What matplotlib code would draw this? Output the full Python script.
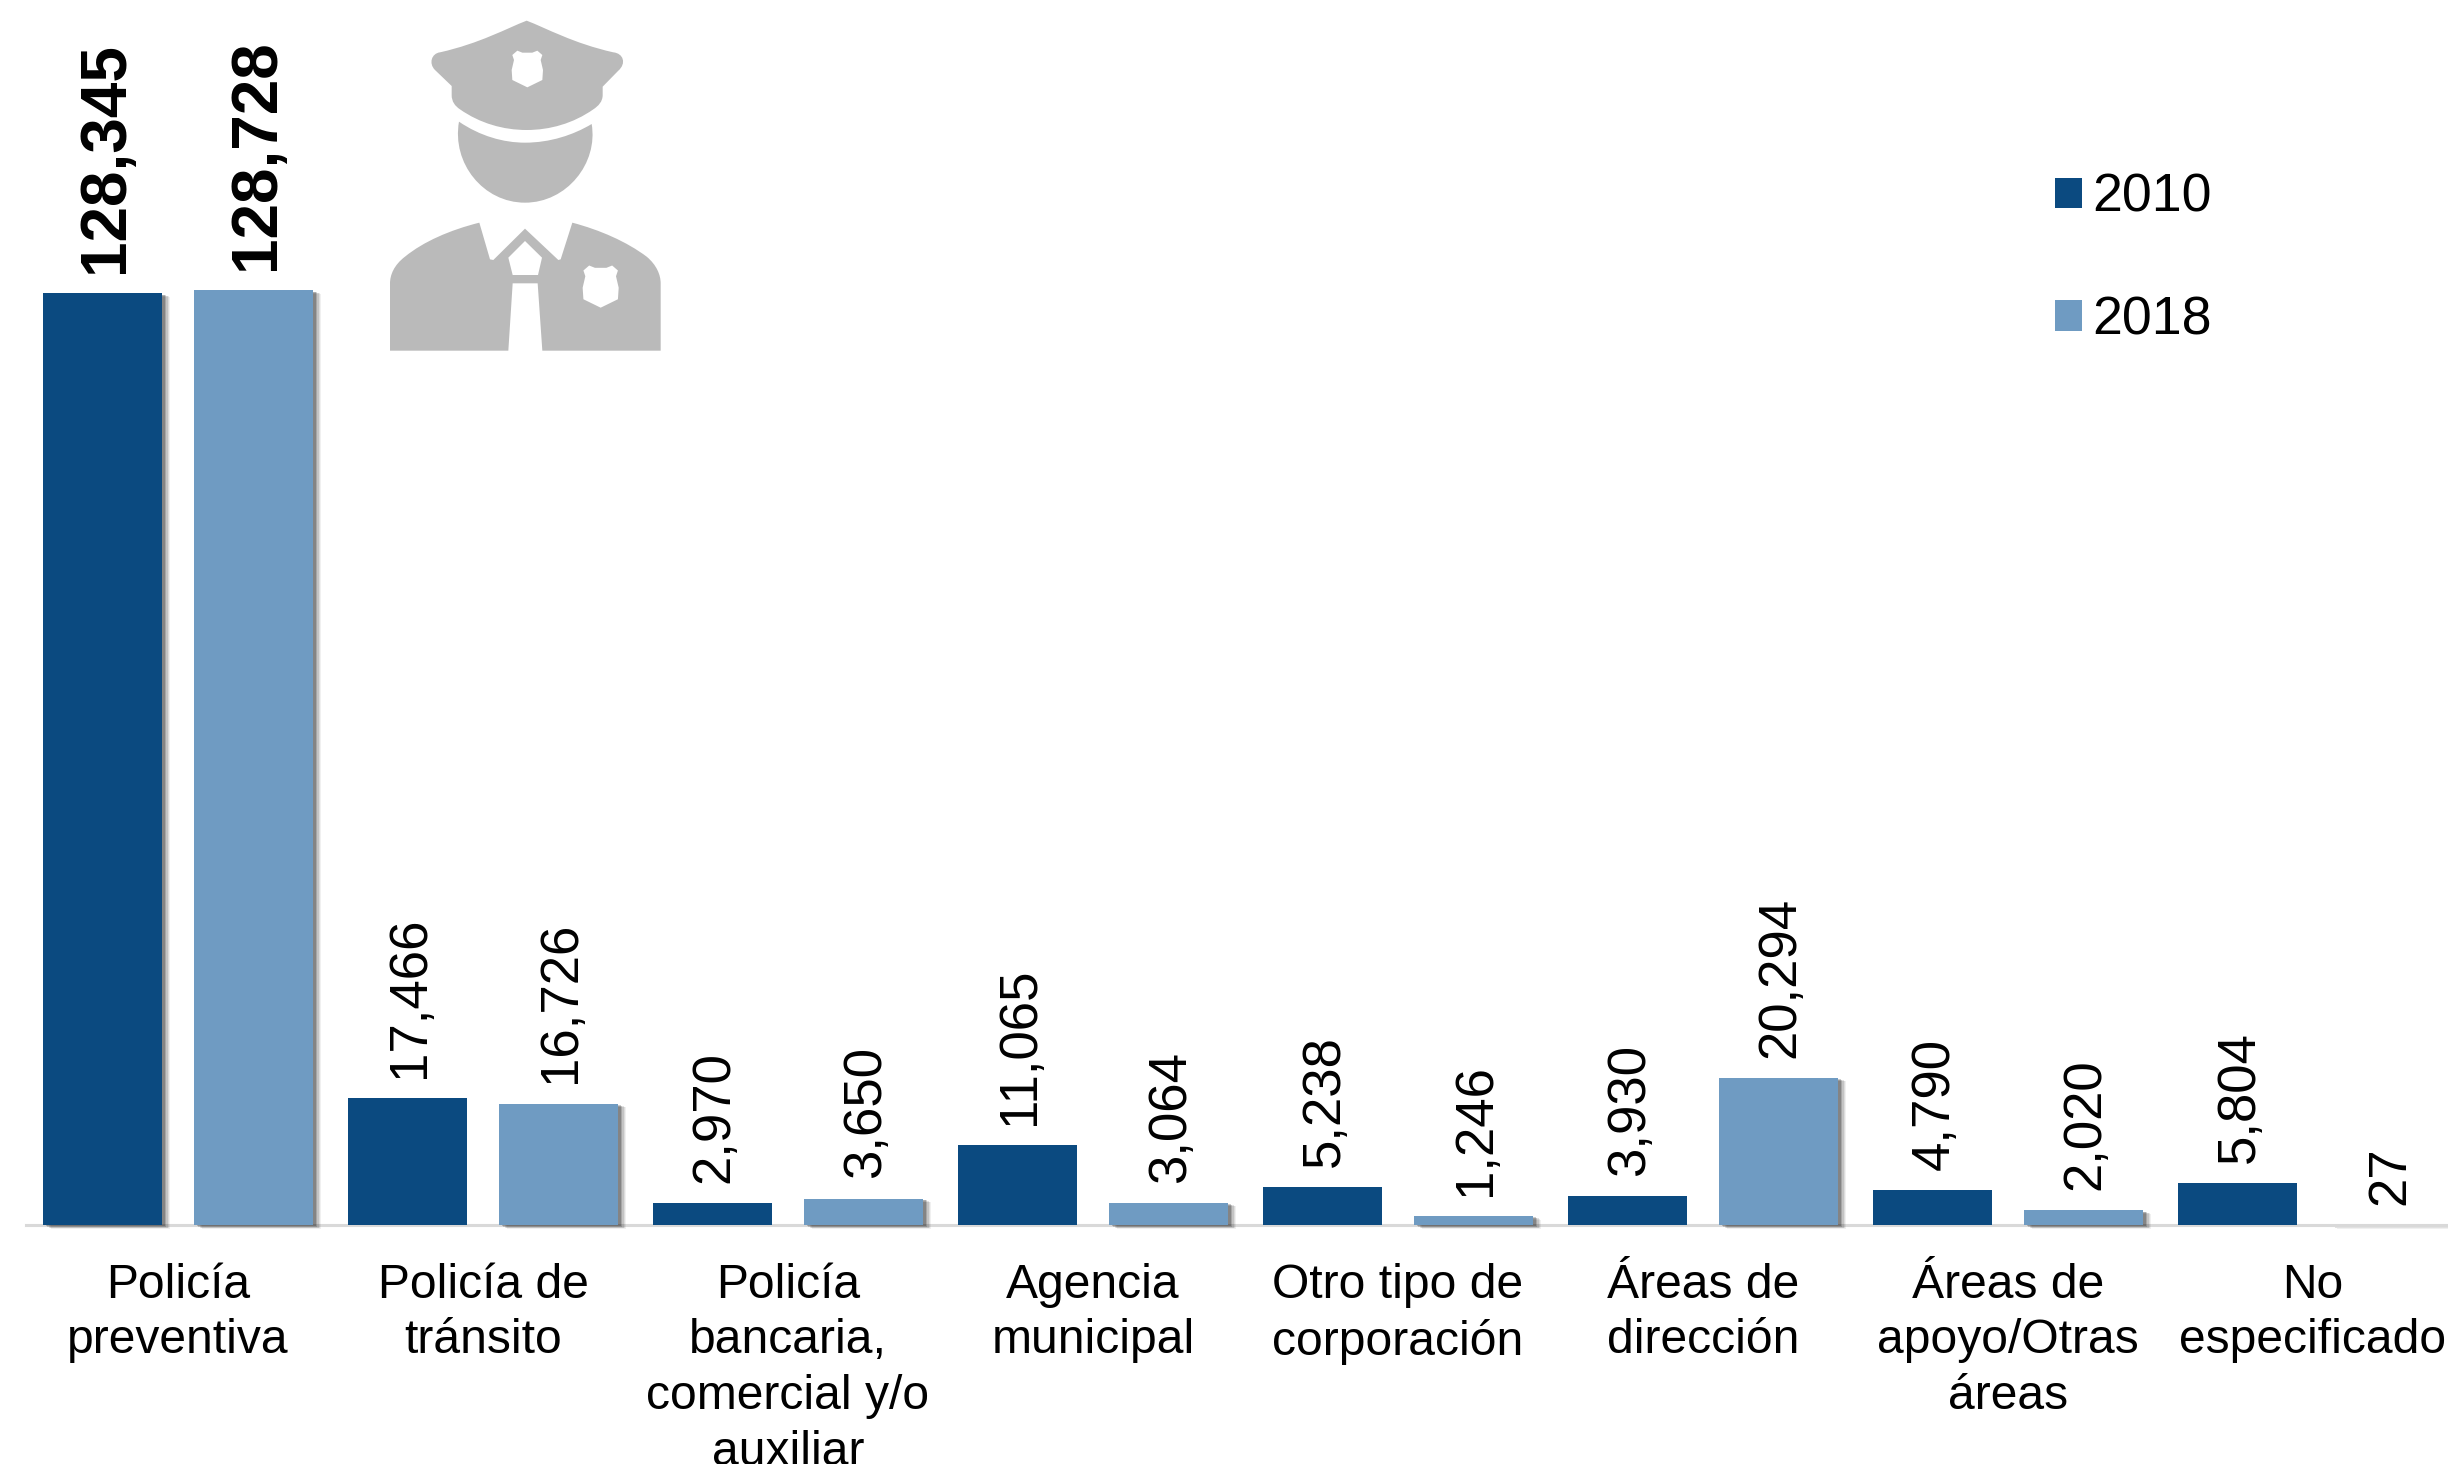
"""Policía por tipo de corporación, 2010 vs 2018."""
import matplotlib
matplotlib.use("Agg")
import matplotlib.patheffects as pe
import matplotlib.pyplot as plt
import numpy as np
from matplotlib.patches import PathPatch
from matplotlib.path import Path

plt.rcParams["font.family"] = ["Liberation Sans", "DejaVu Sans"]

categories = [
    "Policía\npreventiva",
    "Policía de\ntránsito",
    "Policía\nbancaria,\ncomercial y/o\nauxiliar",
    "Agencia\nmunicipal",
    "Otro tipo de\ncorporación",
    "Áreas de\ndirección",
    "Áreas de\napoyo/Otras\náreas",
    "No\nespecificado",
]
values_2010 = [128345, 17466, 2970, 11065, 5238, 3930, 4790, 5804]
values_2018 = [128728, 16726, 3650, 3064, 1246, 20294, 2020, 27]

DARK = "#0B4A80"
LIGHT = "#6F9BC2"
ICON = "#BABABA"
W, H = 2448, 1464


def shadow():
    # soft shadow down and to the right of the bars
    return [
        pe.SimplePatchShadow(offset=(6, -2.6), shadow_rgbFace="#000000", alpha=0.06),
        pe.SimplePatchShadow(offset=(5, -2.2), shadow_rgbFace="#000000", alpha=0.08),
        pe.SimplePatchShadow(offset=(4, -1.8), shadow_rgbFace="#000000", alpha=0.11),
        pe.SimplePatchShadow(offset=(3, -1.4), shadow_rgbFace="#000000", alpha=0.15),
        pe.SimplePatchShadow(offset=(2, -1), shadow_rgbFace="#000000", alpha=0.20),
        pe.Normal(),
    ]


def icon_patch(fig, verts, color):
    # verts are given in reference-crop units: (MOVETO/LINE/CURVE4 code, x, y)
    codes = [v[0] for v in verts]
    pts = [((360 + v[1] / 3) / W, 1 - (v[2] / 3) / H) for v in verts]
    fig.add_artist(PathPatch(Path(pts, codes), fc=color, ec="none", transform=fig.transFigure))


M, L, C = Path.MOVETO, Path.LINETO, Path.CURVE4


def shield(cx, cy, s):
    # little police badge, cx/cy = centre of the top edge
    p = [(-45, 10), (-30, -3), (-15, 3), (0, 3), (15, 3), (30, -3), (45, 10), (40, 25),
         (47, 55), (45, 85), (0, 107), (-45, 85), (-47, 55), (-40, 25)]
    return [(M if i == 0 else L, cx + x * s, cy + y * s) for i, (x, y) in enumerate(p)] + [
        (Path.CLOSEPOLY, cx - 45 * s, cy + 10 * s)
    ]


def draw_icon(fig):
    hat = [
        (M, 500, 62), (C, 560, 85), (C, 640, 130), (L, 760, 157),
        (C, 790, 160), (C, 800, 190), (L, 775, 212), (L, 728, 260), (L, 728, 285),
        (C, 728, 305), (C, 715, 318), (L, 700, 328), (C, 640, 370), (C, 570, 390), (L, 500, 390),
        (C, 430, 390), (C, 360, 370), (L, 300, 328), (C, 285, 318), (C, 275, 305), (L, 275, 285),
        (L, 275, 258), (L, 225, 210), (C, 205, 190), (C, 215, 160), (L, 240, 157),
        (C, 360, 130), (C, 440, 85), (L, 500, 62),
    ]
    face = [
        (M, 297, 365), (C, 360, 408), (C, 430, 428), (L, 495, 428),
        (C, 570, 428), (C, 640, 405), (L, 695, 372),
        (C, 715, 490), (C, 620, 608), (L, 495, 608),
        (C, 370, 608), (C, 275, 490), (L, 297, 365),
    ]
    body = [
        (M, 358, 668), (L, 390, 778), (L, 400, 780), (L, 495, 686), (L, 595, 780), (L, 602, 778),
        (L, 637, 668), (C, 720, 690), (C, 800, 725), (L, 860, 770),
        (C, 890, 795), (C, 902, 825), (L, 902, 850), (L, 902, 1052), (L, 547, 1052),
        (L, 533, 850), (L, 458, 850), (L, 445, 1052), (L, 90, 1052), (L, 90, 850),
        (C, 90, 825), (C, 102, 795), (L, 135, 770), (C, 190, 725), (C, 270, 690), (L, 358, 668),
    ]
    knot = [(M, 495, 723), (L, 546, 773), (L, 534, 825), (L, 458, 825), (L, 445, 773),
            (Path.CLOSEPOLY, 495, 723)]
    for part in (hat, face, body):
        icon_patch(fig, part, ICON)
    icon_patch(fig, knot, "white")
    icon_patch(fig, shield(502, 155, 1.0), "white")
    icon_patch(fig, shield(722, 800, 1.15), "white")


def main():
    fig = plt.figure(figsize=(W / 100, H / 100), dpi=100)
    # axes spans from the very top down to the baseline, x in group units
    ax = fig.add_axes([0, 1 - 1225 / H, 1, 1225 / H])
    px_per_group = 305.0
    x = np.arange(len(categories))
    ax.set_xlim(-178 / px_per_group, -178 / px_per_group + W / px_per_group)
    ax.set_ylim(0, 1225 / 0.00726)

    bw = 119 / px_per_group
    off = 75.5 / px_per_group
    b1 = ax.bar(x - off, values_2010, bw, color=DARK, label="2010", zorder=3, clip_on=False)
    b2 = ax.bar(x + off, values_2018, bw, color=LIGHT, label="2018", zorder=3, clip_on=False)

    leg = ax.legend(
        loc="upper left", bbox_to_anchor=(2055 / W, 1 - 173 / 1225), frameon=False,
        fontsize=38.6, borderpad=0, borderaxespad=0, handlelength=0.5, handleheight=0.5,
        handletextpad=0.2, labelspacing=1.35,
    )
    leg.set_zorder(5)

    # only the light bars and the first dark bar carry a shadow
    for r in [b1[0]] + list(b2):
        r.set_path_effects(shadow())

    for bars, vals in ((b1, values_2010), (b2, values_2018)):
        for i, (r, v) in enumerate(zip(bars, vals)):
            big = i == 0
            ax.annotate(
                f"{v:,}", (r.get_x() + r.get_width() / 2, v),
                xytext=(2.5 if big else 1.5, 14.5), textcoords="offset points", rotation=90,
                ha="center", va="bottom", fontsize=46 if big else 38,
                fontweight="bold" if big else "normal", color="black", zorder=4,
            )

    for s in ("top", "right", "left"):
        ax.spines[s].set_visible(False)
    ax.spines["bottom"].set_color("#D9D9D9")
    ax.spines["bottom"].set_linewidth(2.2)
    ax.spines["bottom"].set_bounds(-152 / px_per_group, ax.get_xlim()[1])
    ax.set_yticks([])
    ax.set_xticks(x)
    ax.set_xticklabels(categories, fontsize=34.6, linespacing=1.31)
    ax.tick_params(axis="x", length=0, pad=27)

    draw_icon(fig)
    fig.savefig("out.png", dpi=100)


if __name__ == "__main__":
    main()
